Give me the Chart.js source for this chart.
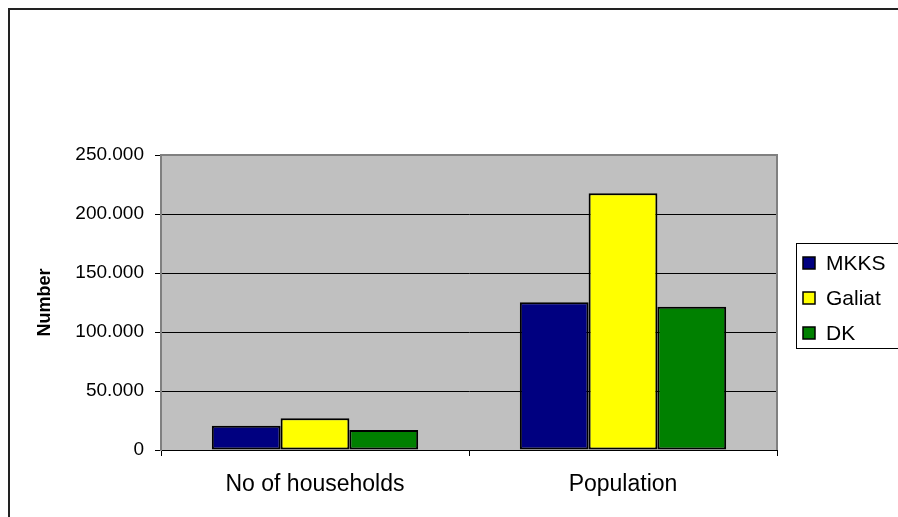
<!DOCTYPE html>
<html>
<head>
<meta charset="utf-8">
<script src="https://cdn.jsdelivr.net/npm/chart.js@4"></script>
<style>
html, body { margin: 0; padding: 0; background: #fff; }
#wrap { width: 898px; height: 517px; position: relative; }
</style>
</head>
<body>
<div id="wrap"><canvas id="chart"></canvas></div>
<script>
const categories = ['No of households', 'Population'];
const seriesNames = ['MKKS', 'Galiat', 'DK'];
const mkks = [20600, 125200];
const galiat = [26900, 217500];
const dk = [17000, 121500];
const yTicks = [0, 50000, 100000, 150000, 200000, 250000];
const colors = ['#000080', '#FFFF00', '#008000'];

Chart.defaults.font.family = '"Liberation Sans", Arial, sans-serif';
Chart.defaults.color = '#000';

// grey plot background + outer frame
const plotBg = {
    id: 'plotBg',
    beforeDraw(chart) {
        const { ctx, chartArea: a } = chart;
        ctx.save();
        ctx.fillStyle = '#C0C0C0';
        ctx.fillRect(a.left, a.top, a.right - a.left, a.bottom - a.top);
        ctx.strokeStyle = '#222';
        ctx.lineWidth = 2;
        ctx.strokeRect(9, 9, 1000, 1000);
        ctx.restore();
    },
    beforeDatasetsDraw(chart) {
        const { ctx, chartArea: a } = chart;
        ctx.save();
        ctx.strokeStyle = '#808080';
        ctx.lineWidth = 2;
        ctx.beginPath();
        ctx.moveTo(a.left, a.bottom);
        ctx.lineTo(a.left, a.top);
        ctx.lineTo(a.right, a.top);
        ctx.lineTo(a.right, a.bottom);
        ctx.stroke();
        ctx.restore();
    }
};

// boxed legend on the right
const boxLegend = {
    id: 'boxLegend',
    afterDraw(chart) {
        const ctx = chart.ctx;
        ctx.save();
        ctx.strokeStyle = '#000';
        ctx.lineWidth = 1;
        ctx.strokeRect(796.5, 243.5, 130, 105);
        ctx.font = '21px "Liberation Sans", Arial, sans-serif';
        ctx.textBaseline = 'middle';
        chart.data.datasets.forEach((ds, i) => {
            const y = 263 + i * 35;
            ctx.fillStyle = ds.backgroundColor;
            ctx.fillRect(803, y - 6, 12, 12);
            ctx.lineWidth = 1.5;
            ctx.strokeRect(803, y - 6, 12, 12);
            ctx.fillStyle = '#000';
            ctx.fillText(ds.label, 826, y + 1);
        });
        ctx.restore();
    }
};

const seriesData = [mkks, galiat, dk];

new Chart(document.getElementById('chart'), {
    type: 'bar',
    data: {
        labels: categories,
        datasets: seriesNames.map((name, i) => ({
            label: name,
            data: seriesData[i],
            backgroundColor: colors[i],
            borderColor: '#000',
            borderWidth: 2,
            borderSkipped: false,
            barPercentage: 1,
            categoryPercentage: 0.67
        }))
    },
    options: {
        responsive: true,
        maintainAspectRatio: false,
        animation: false,
        layout: { padding: { left: 34, top: 155, right: 121, bottom: 0 } },
        plugins: {
            legend: { display: false },
            tooltip: { enabled: false }
        },
        scales: {
            x: {
                afterFit(scale) { scale.height = 67; },
                grid: { drawOnChartArea: false, tickLength: 6, color: '#000', offset: true },
                border: { color: '#000', width: 1 },
                ticks: { font: { size: 23 }, padding: 15, color: '#000' }
            },
            y: {
                min: 0,
                max: 250000,
                afterFit(scale) { scale.width = 127; },
                afterBuildTicks(scale) { scale.ticks = yTicks.map(v => ({ value: v })); },
                grid: { color: '#000', lineWidth: 1, tickLength: 6 },
                border: { color: '#808080', width: 2 },
                ticks: {
                    font: { size: 19 },
                    padding: 11,
                    color: '#000',
                    callback: v => v.toString().replace(/\B(?=(\d{3})+(?!\d))/g, '.')
                },
                title: { display: true, text: 'Number', font: { size: 18, weight: 'bold' }, padding: 0 }
            }
        }
    },
    plugins: [plotBg, boxLegend]
});
</script>
</body>
</html>
